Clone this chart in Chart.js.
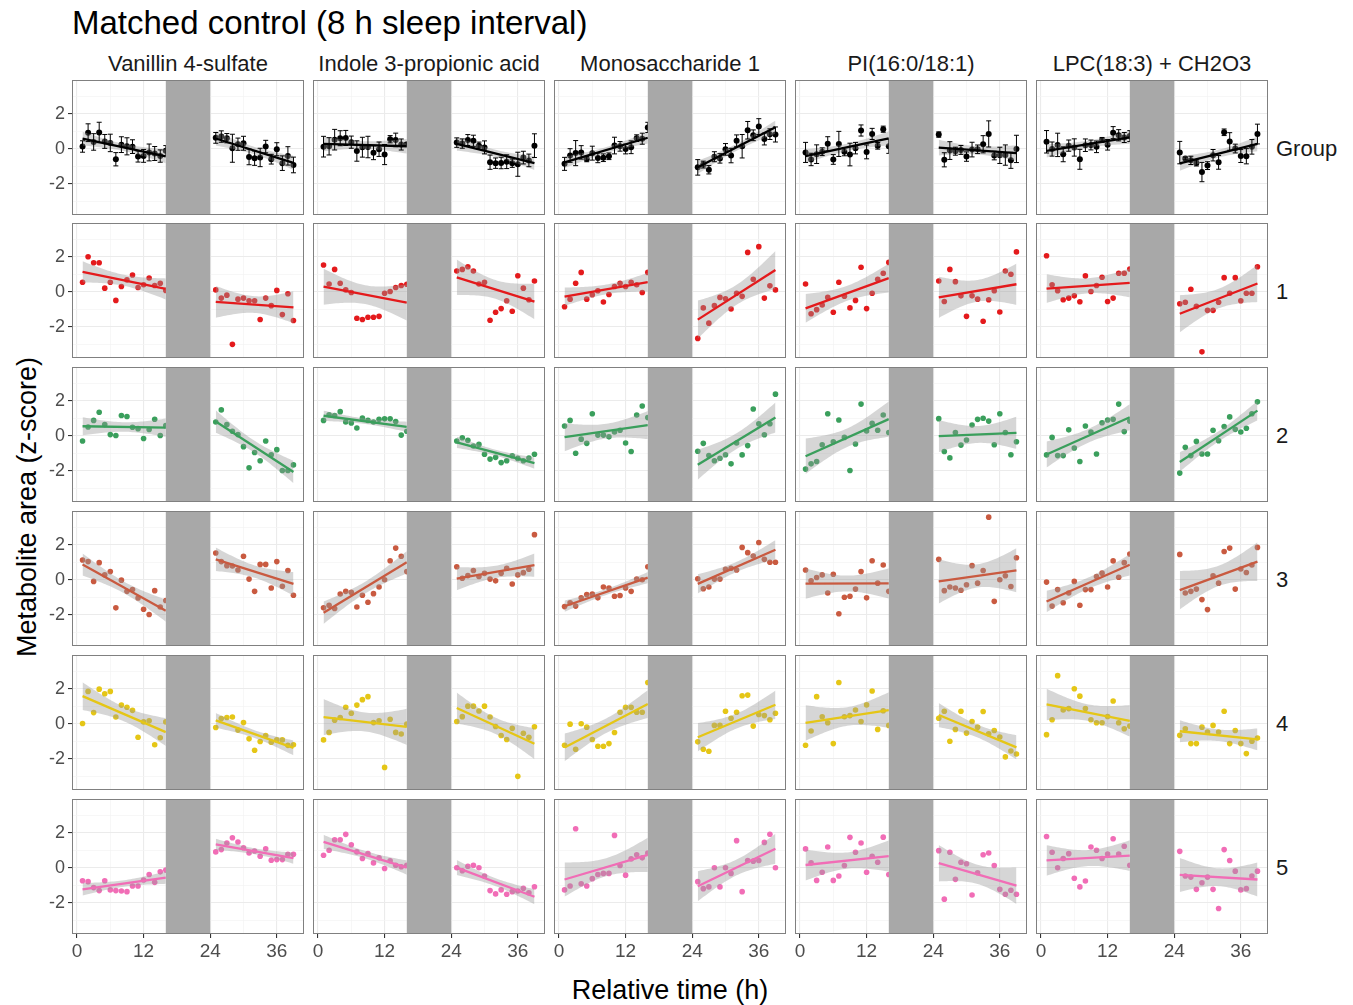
<!DOCTYPE html>
<html>
<head>
<meta charset="utf-8">
<script src="https://cdn.jsdelivr.net/npm/chart.js@4.4.1/dist/chart.umd.min.js"></script>
<style>
  body { margin: 0; background: #fff; }
  #wrap { position: relative; width: 1353px; height: 1005px; overflow: hidden;
          font-family: "Liberation Sans", Arial, sans-serif; }
  #wrap canvas { position: absolute; }
  .txt { position: absolute; white-space: nowrap; line-height: 1; }
</style>
</head>
<body>
<div id="wrap"></div>
<script>
// sampling times (h) and the sleep window
const hours = [1, 2, 3, 4, 5, 6, 7, 8, 9, 10, 11, 12, 13, 14, 15, 16,
               25, 26, 27, 28, 29, 30, 31, 32, 33, 34, 35, 36, 37, 38, 39];
const sleepInterval = [16, 24];
const xTickValues = [0, 6, 12, 18, 24, 30, 36];
const xLabelValues = [0, 12, 24, 36];
const yTickValues = [-3, -2, -1, 0, 1, 2, 3];
const yLabelValues = [-2, 0, 2];

const metabolites = ["Vanillin 4-sulfate", "Indole 3-propionic acid", "Monosaccharide 1",
                     "PI(16:0/18:1)", "LPC(18:3) + CH2O3"];
const rowNames = ["Group", "1", "2", "3", "4", "5"];
const rowColors = ["#000000", "#E41A1C", "#3A9F5C", "#C95A40", "#E5C616", "#F16DB6"];

// z-scores per subject, one value per entry of hours
const vanillin1 = [0.55,2.0,1.66,1.66,0.21,0.55,-0.49,0.3,0.68,0.96,0.25,0.4,0.79,0.36,0.49,0.08, 0.11,-0.36,-0.19,-3.0,-0.42,-0.36,-0.51,-0.51,-1.58,-0.36,-0.79,0.08,-1.3,-0.11,-1.64];
const vanillin2 = [-0.3,0.5,0.88,1.35,0.64,0.07,0.02,1.16,1.1,0.49,0.41,-0.15,0.36,0.95,0.02,0.58, 0.79,1.48,0.64,0.26,0.07,-0.62,-1.83,-0.95,-1.42,-0.3,-1.08,-0.79,-1.98,-1.98,-1.66];
const vanillin3 = [1.13,1.04,-0.09,0.98,0.28,0.47,-1.6,-0.02,-0.66,-0.56,-1.04,-1.68,-1.98,-0.62,-1.55,-1.18, 1.53,1.04,0.81,0.79,0.56,1.35,0.04,-0.66,0.88,0.88,-0.47,1.04,-0.37,0.53,-0.88];
const vanillin4 = [0.02,1.85,0.64,1.98,1.72,1.85,0.39,1.07,0.95,0.77,-0.77,0.11,0.17,-1.2,-0.8,0.11, -0.21,0.3,0.36,0.39,-0.36,0.07,-0.86,-1.51,-1.01,-0.67,-1.05,-0.92,-0.92,-1.23,-1.2];
const vanillin5 = [-0.74,-0.79,-1.13,-1.3,-0.74,-1.26,-1.3,-1.32,-1.36,-1.04,-1.04,-0.7,-0.38,-0.83,-0.23,-0.13, 0.91,1.04,1.42,1.72,1.47,1.15,0.85,0.96,0.66,1.09,0.43,0.47,0.47,0.77,0.77];

const indole1 = [1.53,0.45,1.28,0.49,0.11,-0.04,-1.51,-1.58,-1.45,-1.45,-1.4,-0.08,0.02,0.25,0.36,0.43, 1.19,1.28,1.43,1.19,0.45,0.55,-1.62,-1.17,-0.96,-0.51,-1.11,0.92,0.21,-0.45,0.62];
const indole2 = [0.88,1.2,1.16,1.38,0.79,0.73,0.45,1.01,0.88,0.79,0.95,0.97,0.97,0.82,0.04,0.26, -0.3,-0.11,-0.26,-0.58,-0.49,-1.05,-1.33,-1.23,-1.53,-1.42,-1.14,-1.29,-1.42,-1.27,-1.05];
const indole3 = [-1.6,-1.45,-1.64,-0.81,-0.66,-0.71,-1.55,-0.88,-1.28,-0.79,-0.41,0.0,1.09,1.81,1.35,0.47, 0.75,0.09,0.24,0.53,0.19,0.37,0.04,-0.06,0.37,0.66,-0.24,0.28,0.41,0.6,2.58];
const indole4 = [-0.92,-0.49,0.21,0.36,0.95,0.6,1.07,1.38,1.55,0.07,0.17,-2.49,0.26,-0.49,-0.58,-0.02, 0.13,0.41,1.01,1.01,0.73,1.01,0.39,-0.15,-0.67,-0.9,-0.26,-3.0,-0.54,-0.77,-0.17];
const indole5 = [0.72,1.0,1.6,1.6,1.91,1.32,0.91,0.53,0.81,0.28,0.57,-0.04,0.4,0.15,0.06,0.15, 0.0,-0.17,0.09,0.15,0.0,-0.47,-1.3,-1.49,-1.26,-1.51,-1.36,-1.32,-1.17,-1.42,-1.08];

const mono1 = [-0.85,-0.42,0.49,1.11,-0.42,-0.17,0.06,-0.58,-0.15,0.3,0.49,0.3,0.55,0.4,-0.04,1.11, -2.66,-0.92,-1.79,-0.79,-0.32,-0.4,-0.98,-0.08,-0.26,2.25,0.72,2.58,-0.36,0.34,0.11];
const mono2 = [0.56,0.88,-1.0,-0.19,-0.43,1.26,0.04,0.04,-0.06,0.22,0.32,-0.41,-0.9,1.19,1.7,1.04, -0.88,-0.43,-1.13,-1.42,-1.28,-1.08,-1.6,-0.41,-1.09,-0.56,1.53,0.69,0.06,0.69,2.38];
const mono3 = [-1.53,-1.31,-1.5,-1.03,-0.84,-0.81,-1.03,-0.41,-0.47,-0.94,-0.9,-0.47,-0.66,0.04,0.0,0.75, 0.06,-0.51,-0.41,0.04,0.04,0.6,0.66,0.56,1.85,1.55,1.36,2.13,1.17,1.0,1.0];
const mono4 = [-1.22,-0.02,-1.45,0.0,-0.19,-0.9,-1.28,-1.28,-1.13,-0.5,0.66,0.94,0.94,0.66,0.66,2.36, -1.03,-1.45,-1.57,-0.09,-0.09,0.72,0.32,0.66,1.6,1.64,-0.13,0.53,0.47,0.23,0.6];
const mono5 = [-1.26,-1.04,2.23,-0.91,-1.04,-0.62,-0.38,-0.32,-0.32,1.85,0.13,-0.42,0.51,0.75,0.57,0.85, -0.79,-1.19,-1.09,0.0,-1.09,0.0,-0.32,1.55,-1.36,0.42,0.38,0.42,1.45,1.92,0.0];

const pi1 = [0.45,-1.25,-1.02,-0.75,-0.32,-1.17,0.55,-0.25,-0.92,-0.49,1.4,-0.96,-0.08,0.72,1.06,1.68, 0.62,-0.55,1.28,0.58,-0.23,-1.4,-0.23,-0.42,-1.68,-0.45,0.06,-1.15,1.19,1.0,2.28];
const pi2 = [-1.9,-1.6,-1.47,-0.51,1.26,-0.34,0.9,-0.09,-1.98,-0.47,1.81,0.28,0.71,0.32,1.19,0.19, 0.98,-0.9,-1.26,0.19,-0.53,-0.24,0.62,0.94,1.0,0.84,-0.51,1.26,0.19,-1.08,-0.34];
const pi3 = [0.56,-0.06,0.13,0.28,-0.75,0.32,-1.94,-1.0,-0.94,-0.53,0.47,-1.03,1.09,-0.19,0.85,-0.66, 1.17,-0.62,-0.41,-0.47,-0.6,-0.28,0.81,-0.19,0.53,3.58,-1.23,0.0,0.23,-0.38,1.26];
const pi4 = [-1.22,-0.41,1.55,0.4,0.06,-1.13,2.36,0.4,0.47,0.79,0.13,1.08,1.87,-0.32,0.75,-0.09, 0.32,0.72,-1.0,-0.32,0.72,-0.53,0.13,-0.19,0.7,-0.57,-0.38,-0.75,-1.89,-1.55,-1.72];
const pi5 = [1.08,0.28,-0.72,-0.25,1.19,-0.72,-0.47,0.13,1.74,0.89,1.42,-0.25,0.66,0.32,1.75,-0.38, 0.98,-1.79,0.89,-0.66,0.32,0.23,-1.55,-0.28,0.75,0.85,0.13,-1.23,-1.51,-1.28,-1.51];

const lpc1 = [2.06,0.4,0.06,-0.45,-0.36,-0.23,-0.57,0.91,0.02,0.36,0.83,-0.55,-0.36,1.06,1.06,1.3, -0.68,-0.6,0.15,-0.83,-3.43,-1.06,-1.06,-0.6,0.81,-0.08,0.81,-0.51,-0.08,-0.08,1.43];
const lpc2 = [-1.09,-0.09,-1.13,-1.13,0.34,-0.7,-1.47,0.56,0.22,-1.04,0.75,0.9,0.94,1.81,0.24,0.84, -2.13,-0.66,-1.13,-0.32,-1.04,-1.04,0.32,-0.28,0.53,1.08,0.37,0.22,0.43,1.26,1.94];
const lpc3 = [-0.13,-1.5,-0.56,-1.31,-0.75,-0.09,-1.45,-0.56,-0.56,0.19,0.38,-0.41,1.08,0.15,0.98,1.47, 1.45,-0.75,-0.66,-0.53,-1.13,-1.7,0.23,-0.19,1.62,1.81,-0.53,0.62,0.42,0.85,1.85];
const lpc4 = [-0.62,0.23,2.75,0.79,0.87,2.0,1.58,0.87,0.23,0.06,0.06,0.42,1.3,0.06,-0.28,-0.13, -0.66,-0.28,-1.13,-1.13,-0.19,-0.47,-0.09,-0.47,0.72,-1.13,-0.38,-1.13,-1.7,-1.0,-0.81];
const lpc5 = [1.79,0.89,0.0,0.53,0.81,-0.6,-1.09,-0.75,1.19,1.0,0.53,0.79,1.66,0.79,1.23,0.15, 0.94,-0.47,-0.53,-1.23,-0.85,-0.53,-1.23,-2.32,1.04,0.42,-0.19,-1.26,-1.19,-0.47,-0.19];

// column -> subjects
const subjects = [
  [vanillin1, vanillin2, vanillin3, vanillin4, vanillin5],
  [indole1, indole2, indole3, indole4, indole5],
  [mono1, mono2, mono3, mono4, mono5],
  [pi1, pi2, pi3, pi4, pi5],
  [lpc1, lpc2, lpc3, lpc4, lpc5]
];

const FONT = "'Liberation Sans', Arial, sans-serif";
Chart.defaults.font.family = FONT;

const PANEL_LEFT = [72, 313, 554, 795, 1036];
const PANEL_TOP = [80, 223, 367, 511, 655, 799];
const PW = 232, PH = 135;
const X_MIN = -0.9, X_MAX = 40.9, Y_MIN = -3.78, Y_MAX = 3.93;
const BAND = "rgba(153,153,153,0.4)";

const wrap = document.getElementById("wrap");

function addText(str, css) {
  const d = document.createElement("div");
  d.className = "txt";
  d.textContent = str;
  Object.assign(d.style, css);
  wrap.appendChild(d);
  return d;
}

// ---- lm fit with 95% band (as geom_smooth(method = "lm")) ----
function linFit(xs, ys) {
  const n = xs.length;
  const mx = xs.reduce((a, b) => a + b, 0) / n;
  const my = ys.reduce((a, b) => a + b, 0) / n;
  let sxx = 0, sxy = 0;
  xs.forEach((x, i) => { sxx += (x - mx) ** 2; sxy += (x - mx) * (ys[i] - my); });
  const b = sxy / sxx, a = my - b * mx;
  let sse = 0;
  xs.forEach((x, i) => { const r = ys[i] - (a + b * x); sse += r * r; });
  const s = Math.sqrt(sse / (n - 2));
  const df = n - 2, z = 1.959964;
  const t = z + (z ** 3 + z) / (4 * df) + (5 * z ** 5 + 16 * z ** 3 + 3 * z) / (96 * df * df);
  return { a, b, mx, sxx, s, n, t };
}

function smoothDatasets(xs, ys, color) {
  const f = linFit(xs, ys);
  const lo = Math.min(...xs), hi = Math.max(...xs);
  const upper = [], lower = [];
  const steps = 40;
  for (let k = 0; k <= steps; k++) {
    const x = lo + (hi - lo) * k / steps;
    const yhat = f.a + f.b * x;
    const half = f.t * f.s * Math.sqrt(1 / f.n + (x - f.mx) ** 2 / f.sxx);
    upper.push({ x, y: yhat + half });
    lower.push({ x, y: yhat - half });
  }
  return [
    { data: upper, showLine: true, pointRadius: 0, borderWidth: 0, borderColor: "transparent",
      fill: "+1", backgroundColor: BAND, order: 2 },
    { data: lower, showLine: true, pointRadius: 0, borderWidth: 0, borderColor: "transparent",
      fill: false, order: 2 },
    { data: [{ x: lo, y: f.a + f.b * lo }, { x: hi, y: f.a + f.b * hi }], showLine: true,
      pointRadius: 0, borderColor: color, borderWidth: 2.3, fill: false, order: 1 }
  ];
}

function panelDecor(errors) {
  return {
    id: "panelDecor",
    afterDatasetsDraw(chart) {
      const { ctx, chartArea: a, scales: { x, y } } = chart;
      ctx.save();
      ctx.beginPath();
      ctx.rect(a.left, a.top, a.right - a.left, a.bottom - a.top);
      ctx.clip();
      if (errors) {
        ctx.strokeStyle = "#000";
        ctx.lineWidth = 1;
        errors.forEach(e => {
          const xc = x.getPixelForValue(e.x);
          const xl = x.getPixelForValue(e.x - 0.45), xr = x.getPixelForValue(e.x + 0.45);
          const yl = y.getPixelForValue(e.lo), yh = y.getPixelForValue(e.hi);
          ctx.beginPath();
          ctx.moveTo(xc, yl); ctx.lineTo(xc, yh);
          ctx.moveTo(xl, yl); ctx.lineTo(xr, yl);
          ctx.moveTo(xl, yh); ctx.lineTo(xr, yh);
          ctx.stroke();
        });
      }
      // sleep interval
      const x0 = x.getPixelForValue(sleepInterval[0]);
      const x1 = x.getPixelForValue(sleepInterval[1]);
      ctx.fillStyle = "#A8A8A8";
      ctx.fillRect(x0, a.top, x1 - x0, a.bottom - a.top);
      ctx.restore();
      ctx.save();
      ctx.strokeStyle = "#808080";
      ctx.lineWidth = 1;
      ctx.strokeRect(Math.round(a.left) + 0.5, Math.round(a.top) + 0.5,
                     Math.round(a.right - a.left) - 1, Math.round(a.bottom - a.top) - 1);
      ctx.restore();
    }
  };
}

function makePanel(r, c) {
  const leftExtra = c === 0 ? 40 : 0;
  const bottomExtra = r === rowNames.length - 1 ? 30 : 0;
  const cv = document.createElement("canvas");
  cv.width = PW + leftExtra;
  cv.height = PH + bottomExtra;
  cv.style.left = (PANEL_LEFT[c] - leftExtra) + "px";
  cv.style.top = PANEL_TOP[r] + "px";
  cv.style.width = cv.width + "px";
  cv.style.height = cv.height + "px";
  wrap.appendChild(cv);

  const color = rowColors[r];
  const isLeft = i => hours[i] <= sleepInterval[0];
  let datasets = [];
  let errors = null;

  if (r === 0) {
    // group mean +/- SE of the five subjects, lm over all subject values
    const group = subjects[c];
    const pts = [];
    errors = [];
    hours.forEach((h, i) => {
      const vals = group.map(s => s[i]);
      const m = vals.reduce((a, b) => a + b, 0) / vals.length;
      const sd = Math.sqrt(vals.reduce((a, v) => a + (v - m) ** 2, 0) / (vals.length - 1));
      const se = sd / Math.sqrt(vals.length);
      pts.push({ x: h, y: m });
      errors.push({ x: h, lo: m - se, hi: m + se });
    });
    datasets.push({ data: pts, showLine: false, pointRadius: 3, pointBorderWidth: 0,
                    backgroundColor: color, order: 3 });
    [true, false].forEach(side => {
      const xs = [], ys = [];
      group.forEach(s => hours.forEach((h, i) => {
        if (isLeft(i) === side) { xs.push(h); ys.push(s[i]); }
      }));
      datasets = datasets.concat(smoothDatasets(xs, ys, color));
    });
  } else {
    const vals = subjects[c][r - 1];
    datasets.push({ data: hours.map((h, i) => ({ x: h, y: vals[i] })), showLine: false,
                    pointRadius: 2.8, pointBorderWidth: 0, backgroundColor: color, order: 3 });
    [true, false].forEach(side => {
      const xs = [], ys = [];
      hours.forEach((h, i) => { if (isLeft(i) === side) { xs.push(h); ys.push(vals[i]); } });
      datasets = datasets.concat(smoothDatasets(xs, ys, color));
    });
  }

  const showX = bottomExtra > 0, showY = leftExtra > 0;
  const zeroPad = s => { s.paddingTop = 0; s.paddingBottom = 0; s.paddingLeft = 0; s.paddingRight = 0; };

  new Chart(cv, {
    type: "line",
    data: { datasets },
    options: {
      responsive: false,
      animation: false,
      devicePixelRatio: 1,
      events: [],
      layout: { padding: 0, autoPadding: false },
      plugins: { legend: { display: false }, tooltip: { enabled: false } },
      scales: {
        x: {
          type: "linear", min: X_MIN, max: X_MAX,
          afterBuildTicks: s => { s.ticks = xTickValues.map(v => ({ value: v })); },
          afterFit: s => { s.height = bottomExtra; zeroPad(s); },
          border: { display: false },
          grid: {
            color: ctx => xLabelValues.includes(ctx.tick.value) ? "#EBEBEB" : "#F4F4F4",
            lineWidth: ctx => xLabelValues.includes(ctx.tick.value) ? 1.1 : 0.7,
            drawTicks: showX, tickLength: 4,
            tickColor: ctx => xLabelValues.includes(ctx.tick.value) ? "#333333" : "rgba(0,0,0,0)"
          },
          ticks: {
            display: showX, autoSkip: false, maxRotation: 0, padding: 2,
            color: "#4D4D4D", font: { size: 19, family: FONT },
            callback: v => xLabelValues.includes(v) ? String(v) : ""
          }
        },
        y: {
          type: "linear", min: Y_MIN, max: Y_MAX,
          afterBuildTicks: s => { s.ticks = yTickValues.map(v => ({ value: v })); },
          afterFit: s => { s.width = leftExtra; zeroPad(s); },
          border: { display: false },
          grid: {
            color: ctx => yLabelValues.includes(ctx.tick.value) ? "#EBEBEB" : "#F4F4F4",
            lineWidth: ctx => yLabelValues.includes(ctx.tick.value) ? 1.1 : 0.7,
            drawTicks: showY, tickLength: 4,
            tickColor: ctx => yLabelValues.includes(ctx.tick.value) ? "#333333" : "rgba(0,0,0,0)"
          },
          ticks: {
            display: showY, autoSkip: false, padding: 3,
            color: "#4D4D4D", font: { size: 18, family: FONT },
            callback: v => yLabelValues.includes(v) ? String(v) : ""
          }
        }
      }
    },
    plugins: [panelDecor(errors)]
  });
}

// ---- text ----
addText("Matched control (8 h sleep interval)", { left: "72px", top: "6px", fontSize: "33px", color: "#000" });
metabolites.forEach((m, c) => {
  addText(m, { left: PANEL_LEFT[c] + "px", width: PW + "px", top: "53px", textAlign: "center",
               fontSize: "22px", color: "#1A1A1A" });
});
rowNames.forEach((n, r) => {
  addText(n, { left: "1276px", top: (PANEL_TOP[r] + PH / 2 - 10) + "px", fontSize: "22px", color: "#1A1A1A" });
});
addText("Metabolite area (z-score)", { left: "27px", top: "507px", fontSize: "27px", color: "#000",
  transform: "translate(-50%,-50%) rotate(-90deg)" });
addText("Relative time (h)", { left: "670px", top: "990px", fontSize: "27px", color: "#000",
  transform: "translate(-50%,-50%)" });

for (let r = 0; r < rowNames.length; r++) {
  for (let c = 0; c < metabolites.length; c++) makePanel(r, c);
}
</script>
</body>
</html>
